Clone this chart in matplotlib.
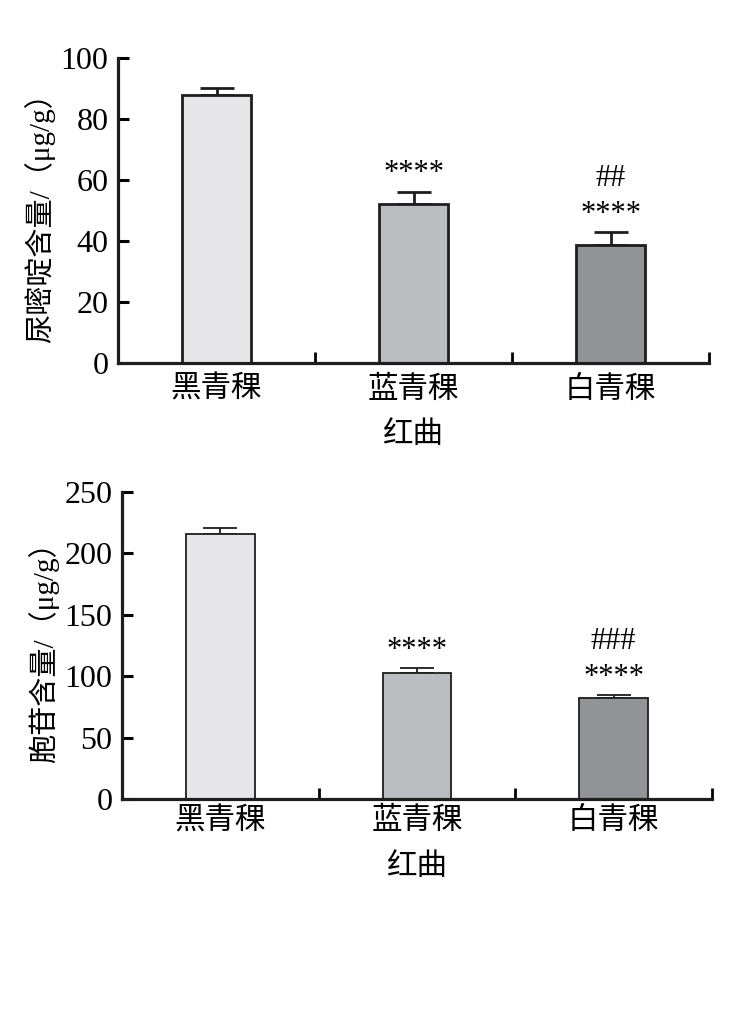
import matplotlib
matplotlib.use("Agg")
import matplotlib.pyplot as plt
import numpy as np

plt.rcParams['font.family'] = ['Liberation Serif', 'Noto Sans CJK SC', 'DejaVu Sans']

# data
categories = ['黑青稞', '蓝青稞', '白青稞']
colors = ['#e6e6e8', '#bcbdc0', '#939497']

uracil = [88, 52, 38.8]
uracil_err = [2.2, 4.1, 4.0]
uracil_star = ['', '****', '****']
uracil_hash = ['', '', '##']

cytidine = [215.5, 102.4, 82]
cytidine_err = [5.5, 4.0, 2.4]
cytidine_star = ['', '****', '****']
cytidine_hash = ['', '', '###']

fig = plt.figure(figsize=(7.29, 10.16), dpi=100)


def draw(ax, vals, errs, stars, hashes, ymax, step, ylabel, lw, xpad):
    x = np.arange(len(categories))
    ax.bar(x, vals, width=0.35, color=colors, edgecolor='#1e1e1e', linewidth=lw, zorder=2)
    ax.errorbar(x, vals, yerr=[np.zeros(len(vals)), errs], fmt='none', ecolor='#1e1e1e',
                elinewidth=lw, capsize=12.5, capthick=lw, zorder=1)
    for xi, v, e, s, h in zip(x, vals, errs, stars, hashes):
        if s:
            ax.annotate(s, (xi, v + e), xytext=(0, 13), textcoords='offset points',
                        ha='center', va='center', fontsize=22)
        if h:
            ax.annotate(h, (xi, v + e), xytext=(0, 39), textcoords='offset points',
                        ha='center', va='center', fontsize=22)
    ax.set_xlim(-0.5, 2.5)
    ax.set_ylim(0, ymax)
    ax.set_yticks(np.arange(0, ymax + 1, step))
    ax.set_xticks(x)
    ax.set_xticklabels(categories, fontsize=22)
    ax.set_xticks([0.5, 1.5, 2.5], minor=True)
    ax.tick_params(axis='x', which='major', length=0, pad=xpad)
    ax.tick_params(axis='x', which='minor', direction='in', length=8, width=2)
    ax.tick_params(axis='y', direction='in', length=8, width=2.2, labelsize=23, pad=7)
    for sp in ['top', 'right']:
        ax.spines[sp].set_visible(False)
    for sp in ['left', 'bottom']:
        ax.spines[sp].set_linewidth(2.3)
        ax.spines[sp].set_color('#1e1e1e')
    ax.set_ylabel(ylabel, fontsize=21, labelpad=4)
    ax.set_xlabel('红曲', fontsize=22, labelpad=12)


ax1 = fig.add_axes([0.1619, 0.6427, 0.8107, 0.3002])
draw(ax1, uracil, uracil_err, uracil_star, uracil_hash, 100, 20, '尿嘧啶含量/（μg/g）', 2.0, 9)

ax2 = fig.add_axes([0.1674, 0.2136, 0.8093, 0.3022])
draw(ax2, cytidine, cytidine_err, cytidine_star, cytidine_hash, 250, 50, '胞苷含量/（μg/g）', 1.3, 6)

fig.savefig('out.png', dpi=100)
